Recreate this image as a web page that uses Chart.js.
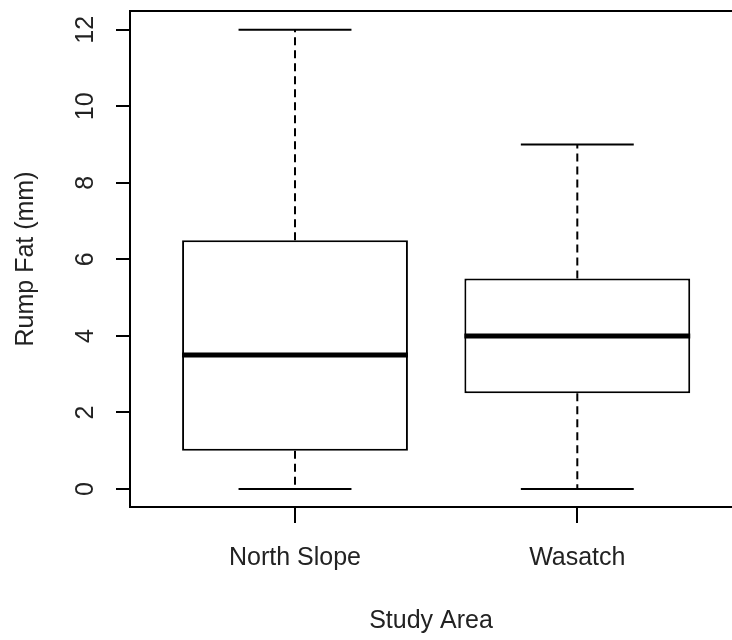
<!DOCTYPE html>
<html>
<head>
<meta charset="utf-8">
<title>Rump Fat by Study Area</title>
<script src="https://cdn.jsdelivr.net/npm/chart.js@4.4.1/dist/chart.umd.min.js"></script>
<style>
  html, body { margin: 0; padding: 0; background: #fff; }
  #wrap { width: 732px; height: 640px; }
</style>
</head>
<body>
<div id="wrap"><canvas id="chart" width="732" height="640"></canvas></div>
<script>
// Five-number summaries of rump fat (mm) per study area
const categories = ['North Slope', 'Wasatch'];
const whiskerLow = [0, 0];
const quartileLow = [1, 2.5];
const medians = [3.5, 4];
const quartileHigh = [6.5, 5.5];
const whiskerHigh = [12, 9];
const yTicks = [0, 2, 4, 6, 8, 10, 12];

const INK = '#000';
const TEXT = '#222';
const FONT_FAMILY = "'Liberation Sans', Arial, sans-serif";
const FONT_SIZE = 25;
const LINE_W = 2;

function segment(points, extra) {
  return Object.assign({
    type: 'line',
    data: points,
    borderColor: INK,
    borderWidth: LINE_W,
    borderCapStyle: 'butt',
    pointRadius: 0,
    pointHoverRadius: 0,
    tension: 0,
    fill: false
  }, extra);
}

const datasets = [];

// boxes: lower to upper quartile
datasets.push({
  type: 'bar',
  data: categories.map((c, i) => ({ x: i + 1, y: [quartileLow[i], quartileHigh[i]] })),
  backgroundColor: '#fff',
  borderColor: INK,
  borderWidth: LINE_W,
  borderSkipped: false,
  barPercentage: 0.8,
  categoryPercentage: 1,
  order: 1
});

categories.forEach((c, i) => {
  const x = i + 1;
  // medians, drawn on top of the boxes
  datasets.push(segment([{ x: x - 0.4, y: medians[i] }, { x: x + 0.4, y: medians[i] }],
    { borderWidth: 5, order: 0 }));
  // dashed whiskers
  datasets.push(segment([{ x: x, y: quartileHigh[i] }, { x: x, y: whiskerHigh[i] }],
    { borderDash: [8, 5], order: 2 }));
  datasets.push(segment([{ x: x, y: quartileLow[i] }, { x: x, y: whiskerLow[i] }],
    { borderDash: [8, 5], order: 2 }));
  // whisker caps
  datasets.push(segment([{ x: x - 0.2, y: whiskerHigh[i] }, { x: x + 0.2, y: whiskerHigh[i] }],
    { order: 2 }));
  datasets.push(segment([{ x: x - 0.2, y: whiskerLow[i] }, { x: x + 0.2, y: whiskerLow[i] }],
    { order: 2 }));
});

// rotated y tick labels and the top frame line
const frameAndLabels = {
  id: 'frameAndLabels',
  afterDraw(chart) {
    const { ctx, chartArea } = chart;
    const ys = chart.scales.y;
    ctx.save();
    ctx.strokeStyle = INK;
    ctx.lineWidth = LINE_W;
    ctx.beginPath();
    ctx.moveTo(chartArea.left, chartArea.top);
    ctx.lineTo(chartArea.right, chartArea.top);
    ctx.stroke();

    ctx.fillStyle = TEXT;
    ctx.font = FONT_SIZE + 'px ' + FONT_FAMILY;
    ctx.textAlign = 'center';
    ctx.textBaseline = 'alphabetic';
    ys.ticks.forEach(t => {
      const py = ys.getPixelForValue(t.value);
      ctx.save();
      ctx.translate(ys.right - 37, py);
      ctx.rotate(-Math.PI / 2);
      ctx.fillText(String(t.value), 0, 0);
      ctx.restore();
    });
    ctx.restore();
  }
};

new Chart(document.getElementById('chart'), {
  type: 'bar',
  data: { datasets },
  options: {
    responsive: false,
    animation: false,
    events: [],
    layout: { padding: { top: 11, left: 0, right: 0, bottom: 0 } },
    plugins: { legend: { display: false }, tooltip: { enabled: false } },
    scales: {
      x: {
        type: 'linear',
        offset: false,
        min: 0.4155,
        max: 2.548,
        afterBuildTicks: s => { s.ticks = categories.map((c, i) => ({ value: i + 1 })); },
        afterFit: s => { s.height = 133; },
        grid: { display: true, offset: false, drawOnChartArea: false, drawTicks: true, tickLength: 16, color: INK, lineWidth: LINE_W },
        border: { display: true, color: INK, width: LINE_W },
        ticks: {
          autoSkip: false,
          maxRotation: 0,
          padding: 20,
          color: TEXT,
          font: { family: FONT_FAMILY, size: FONT_SIZE },
          callback: v => categories[Math.round(v) - 1]
        },
        title: {
          display: true,
          text: 'Study Area',
          color: TEXT,
          font: { family: FONT_FAMILY, size: FONT_SIZE },
          padding: { top: 0, bottom: 4 }
        }
      },
      y: {
        type: 'linear',
        min: -0.47,
        max: 12.49,
        afterBuildTicks: s => { s.ticks = yTicks.map(v => ({ value: v })); },
        afterFit: s => { s.width = 130; },
        grid: { display: true, drawOnChartArea: false, drawTicks: true, tickLength: 14, color: INK, lineWidth: LINE_W },
        border: { display: true, color: INK, width: LINE_W },
        ticks: { display: false },
        title: {
          display: true,
          text: 'Rump Fat (mm)',
          color: TEXT,
          font: { family: FONT_FAMILY, size: FONT_SIZE },
          padding: { top: 11, bottom: 0 }
        }
      }
    }
  },
  plugins: [frameAndLabels]
});
</script>
</body>
</html>
